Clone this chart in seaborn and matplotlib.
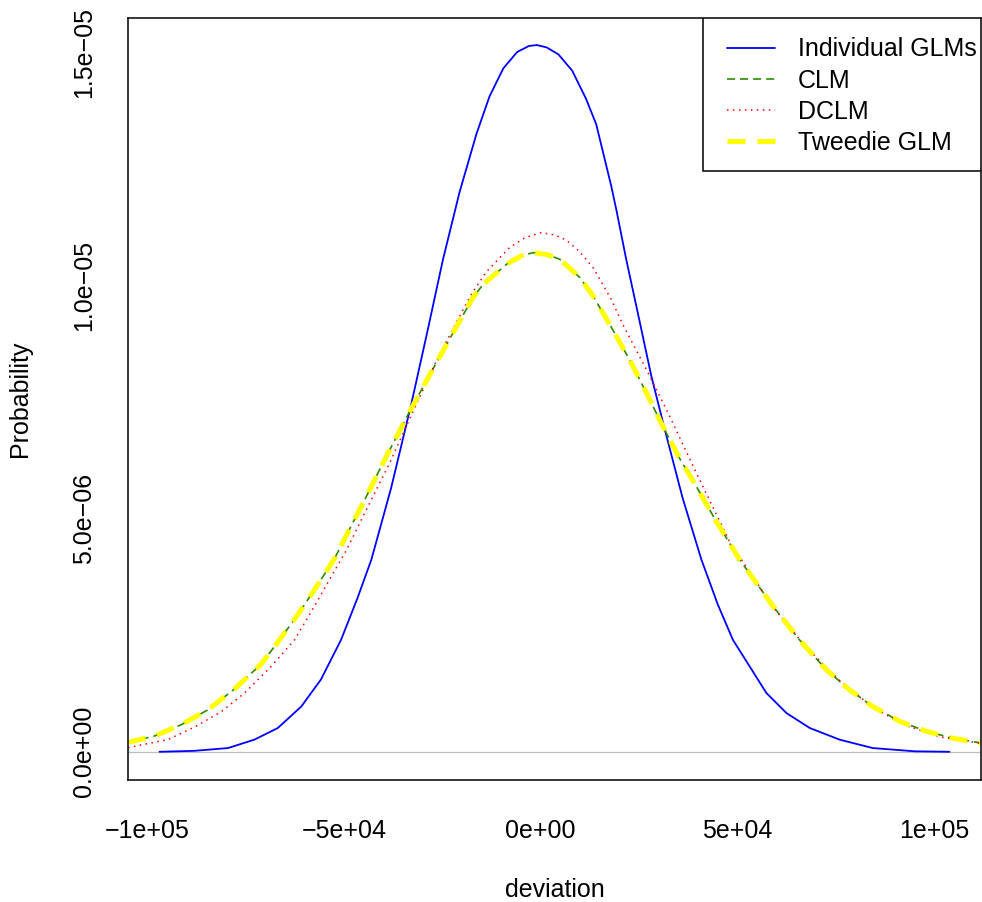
"""Density comparison of reserve deviations (Individual GLMs, CLM, DCLM, Tweedie GLM)."""

import matplotlib
matplotlib.use("Agg")
import matplotlib.pyplot as plt
from matplotlib.patches import Rectangle
import pandas as pd
import seaborn as sns

# values (x in units, y in 1e-6)
blue_x = [-96800, -88000, -79400, -72700, -66750, -60800, -55800, -50700, -46500,
          -43000, -38000, -32800, -28800, -24800, -20600, -16300, -13000, -9500,
          -6000, -3000, -1000, 1500, 4500, 8000, 11500, 14100, 17900, 19200, 21700,
          24800, 28100, 31500, 36000, 40800, 45000, 48800, 53050, 57300, 62400,
          68300, 75900, 84300, 95000, 103800]
blue_y = [0.0, 0.02, 0.08, 0.26, 0.51, 0.97, 1.55, 2.40, 3.30, 4.12, 5.65, 7.48,
          9.00, 10.56, 12.00, 13.25, 14.05, 14.65, 15.00, 15.13, 15.15, 15.10, 14.95,
          14.60, 14.00, 13.45, 12.13, 11.62, 10.56, 9.35, 8.05, 6.91, 5.45, 4.12,
          3.15, 2.40, 1.83, 1.26, 0.83, 0.51, 0.26, 0.08, 0.01, 0.0]

clm_x = [-104800, -98000, -91300, -84500, -77700, -71000, -66750, -62000, -57400,
         -52300, -48500, -44700, -40900, -37000, -33250, -26500, -21800, -17200,
         -14600, -8700, -5000, -1950, 1500, 4800, 9900, 13300, 17800, 22600, 26800,
         31000, 35200, 39500, 44500, 50500, 55000, 59000, 65700, 72500, 78400,
         84300, 91200, 97900, 104650, 111700]
clm_y = [0.20, 0.34, 0.58, 0.90, 1.35, 1.88, 2.35, 2.90, 3.48, 4.15, 4.78, 5.40,
         6.05, 6.69, 7.30, 8.34, 9.05, 9.74, 10.02, 10.45, 10.63, 10.70, 10.66,
         10.56, 10.17, 9.77, 9.12, 8.40, 7.70, 6.98, 6.30, 5.69, 4.95, 4.12, 3.59,
         3.12, 2.40, 1.76, 1.33, 0.97, 0.65, 0.44, 0.29, 0.19]

tweedie_x = clm_x
tweedie_y = clm_y

dclm_x = [-104800, -94700, -87900, -81100, -75200, -68450, -62500, -58300, -49300,
          -45100, -38300, -32400, -26100, -19700, -17600, -13800, -7900, -4000, 170,
          3500, 6500, 9900, 13300, 17900, 20900, 26800, 32700, 39500, 48000, 59000,
          67400, 75900, 84300, 92800, 101300, 111700]
dclm_y = [0.09, 0.26, 0.53, 0.86, 1.26, 1.83, 2.40, 3.00, 4.33, 5.05, 6.20, 7.30,
          8.45, 9.48, 9.81, 10.29, 10.81, 11.02, 11.13, 11.08, 10.97, 10.72, 10.38,
          9.70, 9.15, 8.20, 7.20, 5.98, 4.50, 3.10, 2.24, 1.53, 0.95, 0.56, 0.32, 0.18]

labels = ["Individual GLMs", "CLM", "DCLM", "Tweedie GLM"]
x_ticks = [-1e5, -5e4, 0, 5e4, 1e5]
x_ticklabels = ["\u22121e+05", "\u22125e+04", "0e+00", "5e+04", "1e+05"]
y_ticks = [0, 5e-6, 1e-5, 1.5e-5]
y_ticklabels = ["0.0e+00", "5.0e\u221206", "1.0e\u221205", "1.5e\u221205"]

FS = 18


def frame(xs, ys):
    return pd.DataFrame({"deviation": xs, "density": [v * 1e-6 for v in ys]})


sns.set_style("white")
plt.rcParams["font.family"] = ["Liberation Sans", "DejaVu Sans"]
plt.rcParams["lines.scale_dashes"] = False
plt.rcParams["text.color"] = "black"
plt.rcParams["axes.labelcolor"] = "black"

fig = plt.figure(figsize=(9.82, 9.02), dpi=100)
ax = fig.add_axes([128 / 982, 1 - 780 / 902, 853 / 982, 762 / 902])

ax.axhline(0, color="#BEBEBE", lw=0.9, zorder=1)

sns.lineplot(data=frame(blue_x, blue_y), x="deviation", y="density", ax=ax,
             color="#0000FF", lw=1.3, estimator=None, label=labels[0])
sns.lineplot(data=frame(clm_x, clm_y), x="deviation", y="density", ax=ax,
             color="#2E8B00", lw=1.2, linestyle=(0, (5.8, 3.6)), estimator=None,
             label=labels[1])
sns.lineplot(data=frame(dclm_x, dclm_y), x="deviation", y="density", ax=ax,
             color="#FF0000", lw=1.1, linestyle=(0, (1.1, 3.2)), estimator=None,
             label=labels[2])
sns.lineplot(data=frame(tweedie_x, tweedie_y), x="deviation", y="density", ax=ax,
             color="#FFFF00", lw=3.6, linestyle=(0, (13, 8.6)), estimator=None,
             label=labels[3])

ax.set_xlim(-104800, 111800)
ax.set_ylim(-0.605e-6, 15.73e-6)

ax.set_xticks(x_ticks)
ax.set_xticklabels(x_ticklabels)
ax.set_yticks(y_ticks)
ax.set_yticklabels(y_ticklabels, rotation=90, va="center")

ax.tick_params(axis="both", direction="out", length=11, width=1, color="black",
               labelsize=FS, labelcolor="black")
ax.tick_params(axis="x", pad=17)
ax.tick_params(axis="y", pad=12)

for s in ax.spines.values():
    s.set_visible(True)
    s.set_color("black")
    s.set_linewidth(1.1)

ax.set_xlabel("deviation", fontsize=FS, labelpad=25.5)
ax.set_ylabel("Probability", fontsize=FS, labelpad=28.5)

# R-style legend box: a plain rectangle with the entries inside
ax.add_patch(Rectangle((0.6741, 0.7992), 0.3259, 0.2008, transform=ax.transAxes,
                       facecolor="white", edgecolor="black", lw=1.1, zorder=4.5))
leg = ax.legend(loc="upper right", bbox_to_anchor=(0.9953, 0.9745), borderaxespad=0,
                frameon=False, fontsize=FS, handlelength=1.92, handletextpad=0.92,
                borderpad=0, labelspacing=0.29)
leg.set_zorder(5)

fig.savefig("out.png", dpi=100)
